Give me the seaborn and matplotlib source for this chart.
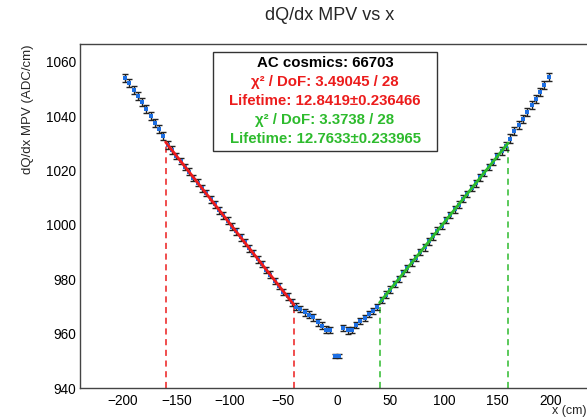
import numpy as np
import pandas as pd
import seaborn as sns
import matplotlib.pyplot as plt
from matplotlib.patches import Rectangle
from matplotlib.ticker import MultipleLocator, FixedLocator

# bin centres (4 cm bins) and dQ/dx MPV
x_left = [-198, -194, -190, -186, -182, -178, -174, -170, -166, -162,
          -158, -154, -150, -146, -142, -138, -134, -130, -126, -122,
          -118, -114, -110, -106, -102, -98, -94, -90, -86, -82,
          -78, -74, -70, -66, -62, -58, -54, -50, -46, -42,
          -38, -34, -30, -26, -22, -18, -14, -10, -6, -2]
mpv_left = [1054.0, 1052.1, 1049.8, 1047.6, 1045.1, 1042.8, 1040.2, 1037.6, 1035.3, 1032.7,
            1029.4, 1027.5, 1025.3, 1023.6, 1021.4, 1019.6, 1017.3, 1015.6, 1013.5, 1011.7,
            1009.4, 1007.6, 1005.4, 1003.5, 1001.6, 999.4, 997.6, 995.4, 993.6, 991.4,
            989.6, 987.3, 985.7, 983.4, 981.7, 979.4, 977.6, 975.4, 973.7, 971.5,
            969.9, 969.0, 967.8, 967.0, 966.0, 964.2, 963.0, 961.5, 961.3, 951.8]
x_right = [2, 6, 10, 14, 18, 22, 26, 30, 34, 38,
           42, 46, 50, 54, 58, 62, 66, 70, 74, 78,
           82, 86, 90, 94, 98, 102, 106, 110, 114, 118,
           122, 126, 130, 134, 138, 142, 146, 150, 154, 158,
           162, 166, 170, 174, 178, 182, 186, 190, 194, 198]
mpv_right = [951.8, 962.0, 961.2, 961.3, 963.2, 964.6, 965.8, 967.2, 968.4, 969.8,
             972.3, 974.4, 976.2, 978.3, 980.1, 982.3, 984.0, 986.2, 987.9, 990.1,
             991.8, 994.0, 995.8, 997.9, 999.7, 1001.8, 1003.6, 1005.7, 1007.5, 1009.7,
             1011.4, 1013.6, 1015.3, 1017.5, 1019.2, 1021.4, 1023.2, 1025.3, 1027.1, 1029.2,
             1031.8, 1034.5, 1036.8, 1039.1, 1041.7, 1044.2, 1046.5, 1049.0, 1051.4, 1054.4]

# fit ranges and fitted values at the ends
fit_red_x = [-160, -40]
fit_red_y = [1030.5, 970.6]
fit_green_x = [40, 160]
fit_green_y = [971.4, 1030.1]

x_ticks = [-200, -150, -100, -50, 0, 50, 100, 150, 200]

n_events = 66703
red_text = ["χ² / DoF: 3.49045 / 28", "Lifetime: 12.8419±0.236466"]
green_text = ["χ² / DoF: 3.3738 / 28", "Lifetime: 12.7633±0.233965"]

df = pd.DataFrame({"x": x_left + x_right, "mpv": mpv_left + mpv_right})
df["err"] = np.where(df.x.abs() > 150, 1.5, np.where(df.x.abs() < 4, 0.8, 1.2))

RED = "#ec1c1c"
GREEN = "#2dbb2d"
BLUE = "#1d6fe3"

sns.set_style("white")
plt.rcParams["font.family"] = ["Liberation Sans", "DejaVu Sans"]

fig = plt.figure(figsize=(5.87, 4.17), dpi=100)
ax = fig.add_axes([80 / 587, 1 - 388 / 417, 513.6 / 587, 344 / 417])

ax.errorbar(df.x, df.mpv, yerr=df.err, fmt="none", ecolor="#222222",
            elinewidth=1, capsize=2.5, capthick=1, zorder=2)
sns.scatterplot(data=df, x="x", y="mpv", marker="s", s=10, color=BLUE,
                edgecolor=BLUE, linewidth=0, ax=ax, zorder=3)

# fit lines and range markers
sns.lineplot(x=fit_red_x, y=fit_red_y, color=RED, lw=2, ax=ax, zorder=4)
sns.lineplot(x=fit_green_x, y=fit_green_y, color=GREEN, lw=2, ax=ax, zorder=4)
for xv, yv in zip(fit_red_x, fit_red_y):
    ax.plot([xv, xv], [940, yv], color=RED, ls=(0, (4, 3)), lw=1.1, zorder=1)
for xv, yv in zip(fit_green_x, fit_green_y):
    ax.plot([xv, xv], [940, yv], color=GREEN, ls=(0, (4, 3)), lw=1.1, zorder=1)

ax.set_xlim(-240, 240)
ax.set_ylim(940, 1066.6)
ax.set_xlabel("")
ax.set_ylabel("")
ax.xaxis.set_major_locator(FixedLocator(x_ticks))
ax.xaxis.set_minor_locator(MultipleLocator(10))
ax.yaxis.set_major_locator(MultipleLocator(20))
ax.yaxis.set_minor_locator(MultipleLocator(5))
ax.tick_params(which="both", direction="in", colors="#333333", labelcolor="black",
               labelsize=9.8, width=1)
ax.tick_params(axis="x", which="major", length=10, pad=4)
ax.tick_params(axis="x", which="minor", length=5)
ax.tick_params(axis="y", which="major", length=12, pad=3)
ax.tick_params(axis="y", which="minor", length=6)
for s in ax.spines.values():
    s.set_color("#444444")
    s.set_linewidth(1)

# stats box
ax.add_patch(Rectangle((213 / 587, 1 - 151 / 417), 224 / 587, 99 / 417,
                       transform=fig.transFigure, fill=True, facecolor="white",
                       edgecolor="#333333", lw=1, zorder=5))
cx = 325 / 587
lines = [("AC cosmics: " + str(n_events), "black"),
         (red_text[0], RED), (red_text[1], RED),
         (green_text[0], GREEN), (green_text[1], GREEN)]
for i, (txt, col) in enumerate(lines):
    fig.text(cx, 1 - (63 + 19 * i) / 417, txt, color=col, ha="center", va="center",
             fontsize=10.8, fontweight="bold", zorder=6)

fig.text(330 / 587, 1 - 16 / 417, "dQ/dx MPV vs x", ha="center", va="center", fontsize=13)
fig.text(28 / 587, 1 - 44 / 417, "dQ/dx MPV (ADC/cm)", rotation=90, ha="center",
         va="top", fontsize=9.5)
fig.text(587 / 587, 1 - 417 / 417, "x (cm)", ha="right", va="bottom", fontsize=9)

fig.savefig("out.png", dpi=100)
